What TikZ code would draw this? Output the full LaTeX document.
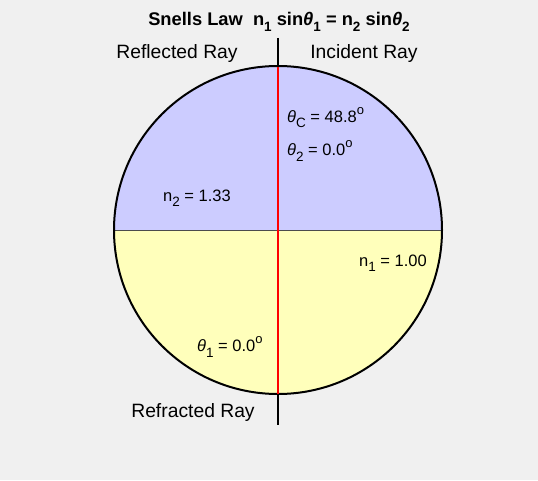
\documentclass[tikz,border=0pt]{standalone}
\usepackage{fontspec}
\setmainfont{Liberation Sans}
\definecolor{bggray}{RGB}{240,240,240}
\definecolor{upperfill}{RGB}{204,204,255}
\definecolor{lowerfill}{RGB}{255,255,187}
\newcommand{\lowsub}[1]{\raisebox{-0.6ex}{\fontsize{13.5}{13.5}\selectfont #1}}
\newcommand{\degsup}{\raisebox{0.9ex}{\fontsize{13}{13}\selectfont o}}
\newcommand{\thet}{\textit{θ}}
\tikzset{
  raylabel/.style={font=\fontsize{19.3}{21}\selectfont, inner sep=0pt},
  vallabel/.style={font=\fontsize{16.5}{18}\selectfont, inner sep=0pt, anchor=west},
}
\begin{document}
\begin{tikzpicture}[x=1pt,y=1pt]
\useasboundingbox[fill=bggray] (0,0) rectangle (538,480);
% halves of the circle
\fill[upperfill] (114,250) arc[start angle=180,end angle=0,radius=164] -- cycle;
\fill[lowerfill] (114,250) arc[start angle=180,end angle=360,radius=164] -- cycle;
\draw[black!70, line width=0.6pt] (114,250) -- (442,250);
% normal and ray
\coordinate (ntop) at (278,442);
\coordinate (nbot) at (278,55);
\draw[line width=2.4pt] (ntop) -- (nbot);
\draw[black, line width=2pt] (278,250) circle[radius=164];
\coordinate (rtop) at (278,413);
\coordinate (rbot) at (278,86);
\draw[red, line width=2.4pt] (rtop) -- (rbot);
% labels
\node[raylabel, font=\bfseries\fontsize{18.3}{20}\selectfont] (title) at (279,458)
  {Snells Law\ \ n\lowsub{1} sin\thet\lowsub{1} = n\lowsub{2} sin\thet\lowsub{2}};
\node[raylabel] (refl) at (177,426) {Reflected Ray};
\node[raylabel] (inc) at (364,426) {Incident Ray};
\node[raylabel] (refr) at (193,67) {Refracted Ray};
\node[vallabel] (thc) at (287,362) {\thet\lowsub{C} = 48.8\degsup};
\node[vallabel] (th2) at (287,329) {\thet\lowsub{2} = 0.0\degsup};
\node[vallabel] (n2) at (163,282) {n\lowsub{2} = 1.33};
\node[vallabel] (n1) at (359,217) {n\lowsub{1} = 1.00};
\node[vallabel] (th1) at (197,133) {\thet\lowsub{1} = 0.0\degsup};
\end{tikzpicture}
\end{document}
